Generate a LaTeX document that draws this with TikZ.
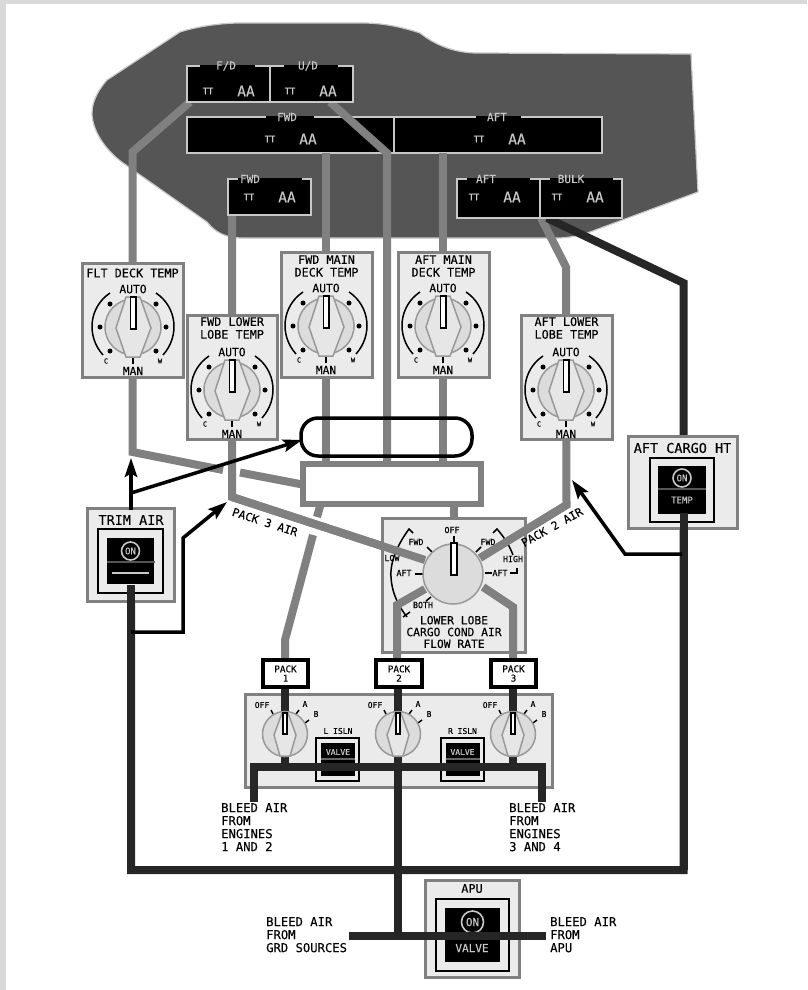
\documentclass[tikz,border=0pt]{standalone}
\usepackage{fontspec}
\setmainfont{DejaVu Sans Mono}[FakeBold=0.18]
\usetikzlibrary{arrows.meta,positioning,calc}
\definecolor{pipegray}{HTML}{808080}
\definecolor{pipedark}{HTML}{262626}
\definecolor{panelgray}{HTML}{EBEBEB}
\definecolor{knobgray}{HTML}{DCDCDC}
\definecolor{knobedge}{HTML}{999999}
\definecolor{scrlight}{HTML}{C8C8C8}
\definecolor{fusegray}{HTML}{555555}
\newcommand{\fs}[1]{\fontsize{#1}{#1}\selectfont}
\tikzset{
  >={Stealth[length=19pt,width=12.5pt,inset=3.5pt]},
  gpipe/.style={draw=pipegray,line width=8pt},
  dpipe/.style={draw=pipedark,line width=8pt},
  ctl/.style={->,draw=black,line width=3.5pt},
  panelbox/.style={draw=pipegray,fill=panelgray,line width=3pt,inner sep=0pt},
  zonebox/.style={draw=scrlight,fill=black,line width=1.5pt,inner sep=0pt},
  frame/.style={draw=black,fill=panelgray,line width=2.5pt,inner sep=0pt},
  scrbox/.style={fill=black,inner sep=0pt},
  packbox/.style={draw=black,fill=white,line width=3.5pt,align=center,
    font=\fs{9.3},inner sep=0pt},
  lbl/.style={inner sep=0pt,font=\fs{#1}},
  lbl/.default=11,
  scrlbl/.style={inner sep=0pt,text=scrlight,font=\fs{#1}},
  txtblock/.style={inner sep=0pt,align=left,anchor=north west,
    font=\fontsize{12.2}{13}\selectfont},
  disc/.style={circle,draw=knobedge,fill=knobgray,line width=1.5pt,inner sep=0pt},
  ptr/.style={draw=knobedge,fill=knobgray!70!white,line width=1.5pt},
  slot/.style={draw=black,fill=white,line width=1.5pt},
  tick/.style={draw=black,line width=1.5pt},
  ondisc/.style={circle,draw=scrlight,fill=black,line width=1.6pt,inner sep=0pt,
    text=scrlight},
  dot/.style={circle,fill=black,inner sep=0pt,minimum size=5pt},
}
% box from its outer corners
\newcommand{\boxat}[6]{%
  \node[#2,minimum width={((#5)-(#3))*1pt},minimum height={((#6)-(#4))*1pt}] (#1)
    at ({((#3)+(#5))/2},{((#4)+(#6))/2}) {};}
% temperature zone read-out: name,x1,y1,x2,y2,label,label x,gap x1,gap x2
\newcommand{\zone}[9]{%
  \boxat{#1}{zonebox}{#2}{#3}{#4}{#5}
  \fill[black] (#8,{#3-1}) rectangle (#9,{#3+1});
  \node[scrlbl=11] (#1lbl) at (#7,#3) {#6};}
\newcommand{\zonevals}[3]{%
  \node[scrlbl=8.9] (#1tt) at (#2,#3) {TT};
  \node[scrlbl=14.5] (#1aa) at ({#2+38},#3) {AA};}
% temperature selector: name,x1,y1,x2,y2,knob x,knob y,title,title y
\newcommand{\tempctl}[9]{%
  \boxat{#1}{panelbox}{#2}{#3}{#4}{#5}
  \node[inner sep=0pt,align=center,font=\fontsize{11.8}{12.7}\selectfont] (#1title)
    at ({(#2+#4)/2},#9) {#8};
  \begin{scope}[shift={(#6,#7)}]
    \node[lbl=11.3] (#1auto) at (0,-38) {AUTO};
    \node[lbl=11.3] (#1man) at (0,44) {MAN};
    \node[lbl=6.8] (#1c) at (-27,34) {C};
    \node[lbl=6.8] (#1w) at (27,34) {W};
    \draw[line width=1.5pt] (-23,-34) .. controls (-44,-20) and (-47,9) .. (-30,28);
    \draw[line width=1.5pt] (23,-34) .. controls (44,-20) and (47,9) .. (30,28);
    \foreach \dx/\dy in {-23/-23,-33/0,-23/24,23/-23,33/0,23/24}
      \node[dot] at (\dx,\dy) {};
    \draw[tick] (0,29) -- (0,37);
    \node[disc,minimum size=56pt] (#1knob) at (0,0) {};
    \draw[ptr] (-7,-30) -- (7,-30) -- (18,1) -- (7,30) -- (-7,30) -- (-17,1) -- cycle;
    \draw[slot] (-2.5,-30) rectangle (3,2);
  \end{scope}}
% pack selector
\newcommand{\packknob}[3]{%
  \begin{scope}[shift={(#2,#3)}]
    \node[lbl=8] (#1off) at (-23,-29) {OFF};
    \node[lbl=8] (#1a) at (20,-30) {A};
    \node[lbl=8] (#1b) at (31,-20) {B};
    \draw[tick] (-14,-24) -- (-12,-20);
    \draw[tick] (14,-24) -- (11,-20);
    \draw[tick] (24,-14) -- (20,-11);
    \node[disc,minimum size=45pt] (#1knob) at (0,0) {};
    \draw[ptr] (-3,-21) -- (3,-21) -- (11,1) -- (5,22) -- (-5,22) -- (-11,1) -- cycle;
    \draw[slot] (-2.2,-21) rectangle (2.2,0);
  \end{scope}}
% isolation valve switch
\newcommand{\islnsw}[3]{%
  \node[lbl=8] (#1lbl) at (#2,731) {#3};
  \boxat{#1fr}{frame,line width=2pt}{#2-22}{738}{#2+21}{781}
  \boxat{#1scr}{scrbox}{#2-17}{743}{#2+17}{776}
  \draw[pipegray!80!black,line width=1.5pt] ({#2-17},759) -- ({#2+17},759);
  \node[scrlbl=8] (#1val) at (#2,752) {VALVE};}
% lit switch: name,x1,y1,x2,y2,margin,on y,on size,on font
\newcommand{\onsw}[9]{%
  \boxat{#1fr}{frame}{#2}{#3}{#4}{#5}
  \boxat{#1scr}{scrbox}{#2+#6}{#3+#6}{#4-#6}{#5-#6}
  \node[ondisc,minimum size=#8pt,font=\fs{#9}] (#1on) at ({(#2+#4)/2},#7) {ON};}
\begin{document}
\begin{tikzpicture}[x=1pt,y=-1pt]
  \useasboundingbox (0,0) rectangle (807,990);
  \fill[black!15] (0,0) rectangle (6,990);
  \fill[black!15] (0,0) rectangle (807,4.5);
  % fuselage
  \draw[fill=fusegray,draw=scrlight,line width=1.2pt] (92,113)
    .. controls (92,100) and (100,88) .. (107,80) -- (180,32)
    .. controls (195,27) and (220,23) .. (240,23) -- (363,23)
    .. controls (385,23) and (405,28) .. (420,33)
    .. controls (435,45) and (455,53) .. (477,53) -- (691,54) -- (698,192)
    -- (590,232) .. controls (575,237) and (565,238) .. (557,238) -- (243,238)
    .. controls (225,238) and (215,232) .. (207,222) -- (123,163)
    .. controls (105,150) and (92,130) .. (92,113) -- cycle;
  \foreach \n/\p in {fdtap/{190,102},fdbend/{132.5,152},fdlow/{132.5,452},fdgap/{223,470},
    mixin/{240,472.5},mixleft/{305,485},
    udtap/{330,102},udbend/{387,153},udlow/{387,465},
    fmtop/{326,153},fmlow/{326,465},amtop/{443,153},amlow/{443,465},
    flotop/{232,215},flobend/{232,497},floend/{425,560},
    alotap/{541,218},alobend/{566,267},alocor/{566.5,505},aloend/{480,558},
    mixoff/{454,503},cargotop/{454,520},
    pa/{321,503},pb/{317,517},pc/{313,535},pd/{285,640},pe/{285,661},
    qa/{425,589},qb/{397,605},qc/{397,661},
    ra/{483,587},rb/{513,607},rc/{513,661},
    bulktap/{547,218},hotbend/{683.5,283},hotbot/{683.5,870},trimbot/{131,870},
    hotstub/{683.5,513},trimstub/{131,585},
    p1top/{285,686},p1bot/{285,767},p2top/{398,686},gndjoin/{398,936},p3top/{513,686},p3bot/{513,767},
    ble/{254,802},blc/{254,767},bre/{542,802},brc/{542,767},
    gndl/{349,936},apur/{546,936},
    trimtop/{131,510},trimup/{131,458},trimfork/{131,493},capin/{302,440},
    htrim/{131,632},htrimb/{183,632},htrimc/{183,538},htrimd/{227,502},
    hhot/{682,554},hhotb/{625,554},hhotc/{572,480}}
    \coordinate (\n) at (\p);
  % full width read-outs
  \zone{fwdz}{187}{117}{394}{153}{FWD}{287}{266}{314}
  \zone{aftz}{394}{117}{602}{153}{AFT}{497}{476}{521}
  \zonevals{fwdz}{270}{139}
  \zonevals{aftz}{479}{139}
  % air pipes
  \draw[gpipe] (fdtap) -- (fdbend) -- (fdlow) -- (fdgap);
  \draw[gpipe] (mixin) -- (mixleft);
  \draw[gpipe] (udtap) -- (udbend) -- (udlow);
  \draw[gpipe] (fmtop) -- (fmlow);
  \draw[gpipe] (amtop) -- (amlow);
  \draw[gpipe] (flotop) -- (flobend) -- (floend);
  \draw[gpipe] (alotap) -- (alobend) -- (alocor) -- (aloend);
  \draw[gpipe] (pa) -- (pb);
  \draw[gpipe] (pc) -- (pd) -- (pe);
  \draw[gpipe] (mixoff) -- (cargotop);
  \draw[dpipe] (bulktap) -- (hotbend) -- (hotbot) -- (trimbot) -- (trimstub);
  % other read-outs
  \zone{fdz}{187}{66}{270}{102}{F/D}{226}{200}{255}
  \zone{udz}{270}{66}{353}{102}{U/D}{308}{284}{338}
  \zone{flz}{228}{179}{311}{215}{FWD}{250}{238}{302}
  \zone{alz}{457}{179}{540}{218}{AFT}{486}{467}{530}
  \zone{blz}{540}{179}{622}{218}{BULK}{571}{550}{613}
  \zonevals{fdz}{208}{91}
  \zonevals{udz}{290}{91}
  \zonevals{flz}{249}{197}
  \zonevals{alz}{474}{197}
  \zonevals{blz}{557}{197}
  % temperature panels
  \tempctl{flt}{82}{263}{183}{377}{133}{327}{FLT DECK TEMP}{273}
  \tempctl{flo}{187}{315}{277}{439}{232}{390}{FWD LOWER\\LOBE TEMP}{328}
  \tempctl{fmn}{281}{252}{372}{377}{326}{326}{FWD MAIN\\DECK TEMP}{266}
  \tempctl{amn}{398}{252}{489}{377}{443}{326}{AFT MAIN\\DECK TEMP}{266}
  \tempctl{alo}{521}{315}{612}{439}{566}{390}{AFT LOWER\\LOBE TEMP}{328}
  % mixing manifold and recirculation
  \node[draw=black,line width=3.5pt,rounded corners=17pt,minimum width=171pt,
    minimum height=38pt,inner sep=0pt] (recirc) at (386.5,437) {};
  \node[draw=pipegray,fill=white,line width=5.5pt,minimum width=178pt,
    minimum height=40pt,inner sep=0pt] (mix) at (392,484) {};
  \node[lbl=11.3,rotate=-18] (pk3lbl) at (265,522) {PACK 3 AIR};
  % cargo flow panel
  \boxat{cargo}{panelbox}{382}{518}{525}{652}
  \node[lbl=8.3] (coff) at (452,530) {OFF};
  \node[lbl=8.3] (cfl) at (416,542) {FWD};
  \node[lbl=8.3] (cfr) at (488,542) {FWD};
  \node[lbl=8.3] (clow) at (392,558) {LOW};
  \node[lbl=8.3] (cal) at (404,573) {AFT};
  \node[lbl=8.3] (car) at (500,573) {AFT};
  \node[lbl=8.3] (chigh) at (513,559) {HIGH};
  \node[lbl=8.3] (cboth) at (423,605) {BOTH};
  \node[lbl=11.3,align=center,font=\fontsize{11.3}{11.8}\selectfont] (ctitle) at (454,632)
    {LOWER LOBE\\CARGO COND AIR\\FLOW RATE};
  \node[lbl=11.3,rotate=29] (pk2lbl) at (552,527) {PACK 2 AIR};
  \draw[tick] (454,536) -- (454,543);
  \draw[tick] (427,547) -- (432,552);
  \draw[tick] (476,552) -- (481,547);
  \draw[tick] (415,574) -- (423,574);
  \draw[tick] (485,573) -- (492,573);
  \draw[tick] (426,601) -- (431,597);
  \draw[tick] (413,533) -- (409,529)
    .. controls (395,548) and (390,565) .. (391,577)
    .. controls (392,595) and (400,608) .. (407,617);
  \draw[tick] (403,617) -- (410,612);
  \draw[tick] (493,533) -- (497,529) .. controls (505,538) and (510,547) .. (513,555);
  \draw[tick] (510,573) -- (517,573) -- (517,568);
  \draw[gpipe] (flobend) -- (floend);
  \draw[gpipe] (alocor) -- (aloend);
  \draw[gpipe] (qa) -- (qb) -- (qc);
  \draw[gpipe] (ra) -- (rb) -- (rc);
  \node[disc,minimum size=60pt] (cknob) at (453,574) {};
  \draw[slot] (451,543) rectangle (457,575);
  % pack panel
  \boxat{packs}{panelbox}{245}{694}{552}{787}
  \draw[dpipe] (p1top) -- (p1bot);
  \draw[dpipe] (p2top) -- (gndjoin);
  \draw[dpipe] (p3top) -- (p3bot);
  \packknob{pa}{285}{734}
  \packknob{pb}{398}{734}
  \packknob{pc}{513}{734}
  \islnsw{lis}{338}{L ISLN}
  \islnsw{ris}{462.5}{R ISLN}
  \draw[dpipe] (ble) -- (blc) -- (brc) -- (bre);
  \node[packbox,minimum width=45pt,minimum height=27pt] (pk1) at (285.5,673.5) {PACK\\1};
  \node[packbox,minimum width=46pt,minimum height=27pt] (pk2) at (399,673.5) {PACK\\2};
  \node[packbox,minimum width=45pt,minimum height=27pt] (pk3) at (513.5,673.5) {PACK\\3};
  \node[txtblock] (blL) at (221,803) {BLEED AIR\\FROM\\ENGINES\\1 AND 2};
  \node[txtblock] (blR) at (509,803) {BLEED AIR\\FROM\\ENGINES\\3 AND 4};
  % trim air
  \boxat{trim}{panelbox}{87}{508}{174}{601}
  \node[lbl=13.5] (trimlbl) at (131,520) {TRIM AIR};
  \onsw{trs}{98}{529}{163}{593}{9}{551}{18}{9}
  \draw[fusegray,line width=2pt] (107,562) -- (155,562);
  \draw[scrlight,line width=1.5pt] (112,573) -- (149,573);
  \draw[dpipe] (trimstub) -- (trimbot);
  % aft cargo heat
  \boxat{ach}{panelbox}{628}{436}{737}{528}
  \node[lbl=13.5] (achlbl) at (682.5,448) {AFT CARGO HT};
  \onsw{acs}{650}{458}{714}{522}{8}{478}{18}{9}
  \draw[fusegray,line width=1.5pt] (658,489) -- (706,489);
  \node[scrlbl=9] (achtemp) at (682,500) {TEMP};
  \draw[dpipe] (hotstub) -- (hotbot);
  % apu
  \boxat{apu}{panelbox}{425}{880}{519}{977}
  \node[lbl=11.8] (apulbl) at (472,888.5) {APU};
  \onsw{aps}{436}{899}{509}{971}{9}{922}{22}{11}
  \node[scrlbl=11] (apuval) at (472,948) {VALVE};
  \draw[dpipe] (gndl) -- (apur);
  \node[txtblock] (blG) at (266,917) {BLEED AIR\\FROM\\GRD SOURCES};
  \node[txtblock] (blA) at (550,917) {BLEED AIR\\FROM\\APU};
  % control arrows
  \draw[ctl] (trimtop) -- (trimup);
  \draw[ctl] (trimfork) -- (capin);
  \draw[ctl] (htrim) -- (htrimb) -- (htrimc) -- (htrimd);
  \draw[ctl] (hhot) -- (hhotb) -- (hhotc);
\end{tikzpicture}
\end{document}
